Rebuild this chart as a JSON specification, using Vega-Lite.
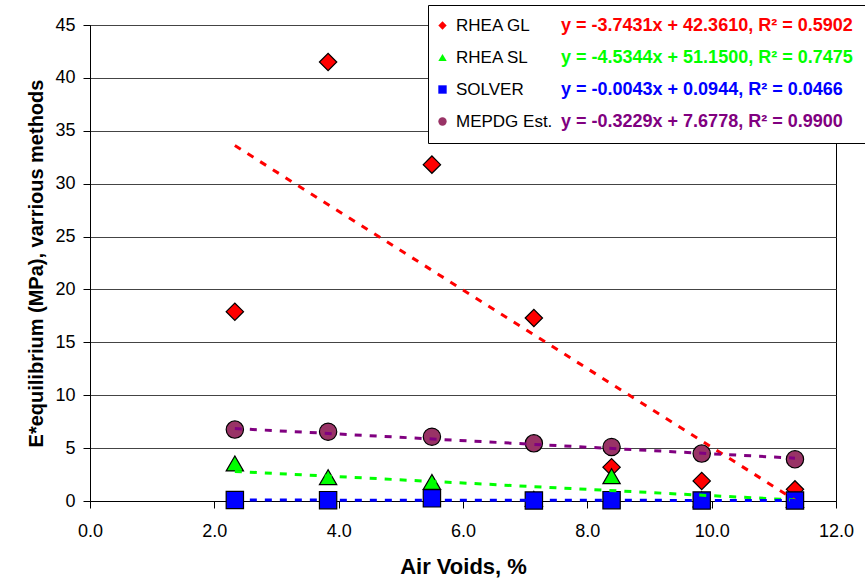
{
  "$schema": "https://vega.github.io/schema/vega-lite/v6.json",
  "width": 746,
  "height": 476,
  "autosize": {"type": "none"},
  "padding": {"left": 90, "top": 25, "right": 29, "bottom": 84},
  "background": "white",
  "config": {
    "font": "Liberation Sans",
    "view": {"stroke": "black", "strokeWidth": 1}
  },
  "datasets": {
    "pts": [
      {"series": "RHEA GL", "x": 2.33, "y": 17.9},
      {"series": "RHEA GL", "x": 3.83, "y": 41.5},
      {"series": "RHEA GL", "x": 5.5, "y": 31.8},
      {"series": "RHEA GL", "x": 7.14, "y": 17.3},
      {"series": "RHEA GL", "x": 8.39, "y": 3.2},
      {"series": "RHEA GL", "x": 9.84, "y": 1.9},
      {"series": "RHEA GL", "x": 11.34, "y": 1.1},
      {"series": "RHEA SL", "x": 2.33, "y": 3.55},
      {"series": "RHEA SL", "x": 3.83, "y": 2.25},
      {"series": "RHEA SL", "x": 5.5, "y": 1.8},
      {"series": "RHEA SL", "x": 7.14, "y": 0.2},
      {"series": "RHEA SL", "x": 8.39, "y": 2.35},
      {"series": "RHEA SL", "x": 9.84, "y": 0.15},
      {"series": "RHEA SL", "x": 11.34, "y": 0.1},
      {"series": "SOLVER", "x": 2.33, "y": 0.1},
      {"series": "SOLVER", "x": 3.83, "y": 0.08},
      {"series": "SOLVER", "x": 5.5, "y": 0.25},
      {"series": "SOLVER", "x": 7.14, "y": 0.05},
      {"series": "SOLVER", "x": 8.39, "y": 0.08},
      {"series": "SOLVER", "x": 9.84, "y": 0.05},
      {"series": "SOLVER", "x": 11.34, "y": 0.05},
      {"series": "MEPDG Est.", "x": 2.33, "y": 6.75},
      {"series": "MEPDG Est.", "x": 3.83, "y": 6.55},
      {"series": "MEPDG Est.", "x": 5.5, "y": 6.08},
      {"series": "MEPDG Est.", "x": 7.14, "y": 5.45},
      {"series": "MEPDG Est.", "x": 8.39, "y": 5.1},
      {"series": "MEPDG Est.", "x": 9.84, "y": 4.48},
      {"series": "MEPDG Est.", "x": 11.34, "y": 3.94}
    ],
    "trend": [
      {"eq": "y = -3.7431x + 42.3610, R² = 0.5902", "x": 2.33, "y": 33.6},
      {"eq": "y = -3.7431x + 42.3610, R² = 0.5902", "x": 11.34, "y": 0.1},
      {"eq": "y = -4.5344x + 51.1500, R² = 0.7475", "x": 2.33, "y": 2.8},
      {"eq": "y = -4.5344x + 51.1500, R² = 0.7475", "x": 11.34, "y": 0.1},
      {"eq": "y = -0.0043x + 0.0944, R² = 0.0466", "x": 2.33, "y": 0.09},
      {"eq": "y = -0.0043x + 0.0944, R² = 0.0466", "x": 11.34, "y": 0.05},
      {"eq": "y = -0.3229x + 7.6778, R² = 0.9900", "x": 2.33, "y": 6.85},
      {"eq": "y = -0.3229x + 7.6778, R² = 0.9900", "x": 11.34, "y": 4.05}
    ]
  },
  "layer": [
    {
      "data": {"name": "pts"},
      "mark": {"type": "point", "filled": true, "size": 300, "stroke": "black", "strokeWidth": 1.2, "opacity": 1},
      "encoding": {
        "x": {
          "field": "x", "type": "quantitative",
          "scale": {"domain": [0, 12], "nice": false, "zero": false},
          "axis": {
            "title": "Air Voids, %", "values": [0, 2, 4, 6, 8, 10, 12], "format": ".1f",
            "grid": false, "domainColor": "black", "tickColor": "black", "tickSize": 7,
            "labelFontSize": 18, "labelColor": "black", "labelPadding": 14,
            "labelFlush": false, "labelOverlap": false,
            "titleFontSize": 22, "titleFontWeight": "bold", "titleColor": "black", "titlePadding": 16
          }
        },
        "y": {
          "field": "y", "type": "quantitative",
          "scale": {"domain": [0, 45], "nice": false, "zero": false},
          "axis": {
            "title": "E*equilibrium (MPa), varrious methods",
            "values": [0, 5, 10, 15, 20, 25, 30, 35, 40, 45],
            "grid": true, "gridColor": "#444444", "gridOpacity": 1,
            "domainColor": "black", "tickColor": "black", "tickSize": 7,
            "labelFontSize": 18, "labelColor": "black", "labelPadding": 8,
            "titleFontSize": 20, "titleFontWeight": "bold", "titleColor": "black", "titlePadding": 8
          }
        },
        "fill": {
          "field": "series", "type": "nominal",
          "scale": {"domain": ["RHEA GL", "RHEA SL", "SOLVER", "MEPDG Est."], "range": ["#FF0000", "#00FF00", "#0000FF", "#993366"]},
          "legend": {
            "orient": "none", "legendX": 332, "legendY": -20, "title": null, "zindex": 2,
            "padding": 12, "labelFontSize": 17, "labelColor": "black", "labelLimit": 1000, "labelOffset": 5,
            "rowPadding": 14, "symbolSize": 70, "symbolStrokeColor": "black", "symbolStrokeWidth": 1
          }
        },
        "shape": {
          "field": "series", "type": "nominal",
          "scale": {"domain": ["RHEA GL", "RHEA SL", "SOLVER", "MEPDG Est."], "range": ["diamond", "triangle-up", "square", "circle"]},
          "legend": {
            "orient": "none", "legendX": 332, "legendY": -20, "title": null, "zindex": 2,
            "padding": 12, "labelFontSize": 17, "labelColor": "black", "labelLimit": 1000, "labelOffset": 5,
            "rowPadding": 14, "symbolSize": 70, "symbolStrokeColor": "black", "symbolStrokeWidth": 1
          }
        }
      }
    },
    {
      "data": {"name": "trend"},
      "mark": {"type": "line", "strokeWidth": 3, "strokeDash": [7, 8]},
      "encoding": {
        "x": {"field": "x", "type": "quantitative"},
        "y": {"field": "y", "type": "quantitative"},
        "stroke": {
          "field": "eq", "type": "nominal",
          "scale": {
            "domain": ["y = -3.7431x + 42.3610, R² = 0.5902", "y = -4.5344x + 51.1500, R² = 0.7475", "y = -0.0043x + 0.0944, R² = 0.0466", "y = -0.3229x + 7.6778, R² = 0.9900"],
            "range": ["#FF0000", "#00FF00", "#0000FF", "#800080"]
          },
          "legend": {
            "orient": "none", "legendX": 338, "legendY": -20, "title": null, "zindex": 1,
            "fillColor": "white", "strokeColor": "black",
            "padding": 12, "labelFontSize": 18, "labelFontWeight": "bold", "labelLimit": 1000,
            "labelOffset": 103, "rowPadding": 14, "symbolSize": 0, "symbolOpacity": 0, "symbolStrokeWidth": 0,
            "encode": {"labels": {"update": {"fill": {"signal": "['#FF0000','#00FF00','#0000FF','#800080'][datum.index]"}}}}
          }
        }
      }
    }
  ]
}
